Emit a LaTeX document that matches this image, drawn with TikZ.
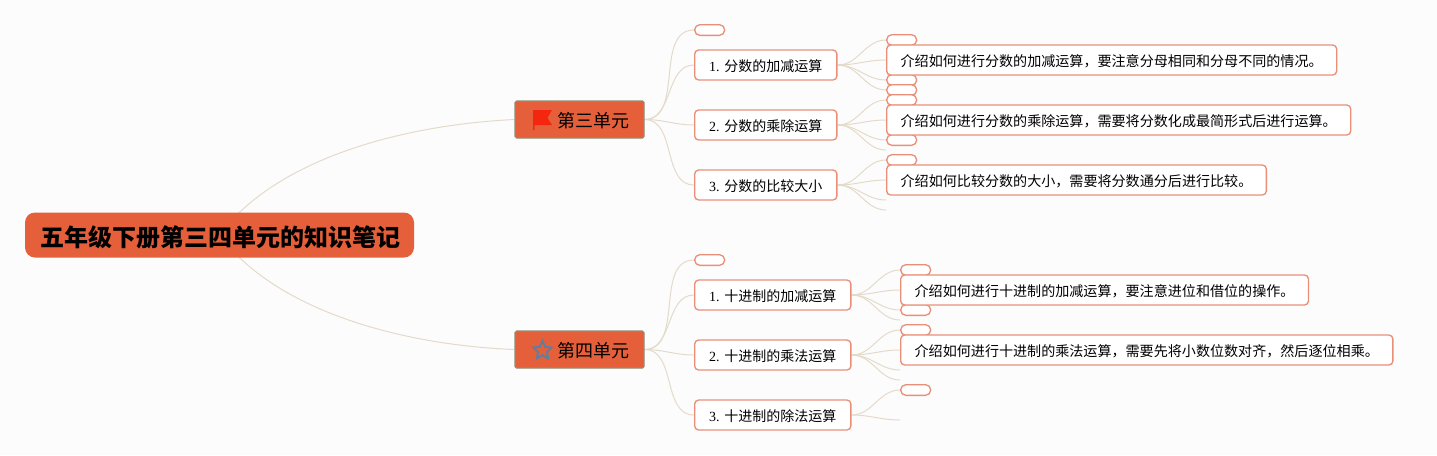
\documentclass[tikz,border=0pt]{standalone}
\usepackage{fontspec}
\setmainfont{Liberation Serif}
\newfontfamily\cjk{Noto Sans CJK SC}
\usetikzlibrary{shapes.geometric,backgrounds}
\definecolor{paper}{HTML}{FCFCFC}
\definecolor{topicred}{HTML}{E5603A}
\definecolor{pillline}{HTML}{E98F78}
\definecolor{linkbeige}{HTML}{E4DACA}
\definecolor{mainline}{HTML}{8E8E76}
\definecolor{starblue}{HTML}{5F7F9F}
\definecolor{flagred}{HTML}{F4260F}
\tikzset{
  rootbox/.style={anchor=center, fill=topicred, rounded corners=7.5pt, minimum width=291.75pt, minimum height=33.75pt, inner sep=0pt, text height=19pt, text depth=2.16pt, font=\cjk\fontsize{18}{20}\bfseries\selectfont},
  mainbox/.style={anchor=center, fill=topicred, draw=mainline, line width=0.9pt, rounded corners=1.2pt, minimum width=96.75pt, minimum height=27.75pt, inner sep=0pt},
  subbox/.style={anchor=west, fill=white, draw=pillline, line width=1pt, rounded corners=3pt, minimum height=22.5pt, inner xsep=10.9pt, inner ysep=0pt, text height=10.5pt, text depth=1pt, font=\fontsize{10.5}{12}\selectfont},
  notebox/.style={subbox, inner xsep=10.5pt, font=\fontsize{10.55}{12}\selectfont},
  pillbox/.style={anchor=west, fill=white, draw=pillline, line width=1pt, rounded corners=3.9pt, minimum width=22.5pt, minimum height=8pt, inner sep=0pt},
  link/.style={draw=linkbeige, line width=0.75pt},
}
\begin{document}
\begin{tikzpicture}[x=0.75pt, y=-0.75pt]
  \node[rootbox] (root) at (219.5,235) {\hspace{1pt}五年级下册第三四单元的知识笔记};

  % unit three
  \node[mainbox] (unitthree) at (579.5,119.5) {};
  \node[anchor=west, inner sep=0pt, font=\cjk\fontsize{13.5}{15}\selectfont] (unitthreetext) at (557,121) {第三单元};
  \fill[flagred] (533,110) -- (552,110) -- (547.5,118) -- (552,125) -- (534.5,125) -- (534.5,130) -- (533,130) -- cycle;
  \node[pillbox] (pa) at (694,30) {};
  \node[subbox] (fa) at (694,65) {1. {\cjk 分数的加减运算}};
  \node[subbox] (fb) at (694,125) {2. {\cjk 分数的乘除运算}};
  \node[subbox] (fc) at (694,185) {3. {\cjk 分数的比较大小}};
  \node[pillbox] (pb) at (886,40) {};
  \node[pillbox] (pc) at (886,80) {};
  \node[pillbox] (pd) at (886,90) {};
  \node[pillbox] (pe) at (886,100) {};
  \node[pillbox] (pf) at (886,140) {};
  \node[pillbox] (pg) at (886,160) {};
  \node[notebox] (na) at (886,60) {\cjk 介绍如何进行分数的加减运算，要注意分母相同和分母不同的情况。};
  \node[notebox] (nb) at (886,120) {\cjk 介绍如何进行分数的乘除运算，需要将分数化成最简形式后进行运算。};
  \node[notebox] (nc) at (886,180) {\cjk 介绍如何比较分数的大小，需要将分数通分后进行比较。};
  \coordinate (ea) at (886,150);
  \coordinate (eb) at (886,200);
  \coordinate (ec) at (886,210);

  % unit four
  \node[mainbox] (unitfour) at (579.5,349.5) {};
  \node[anchor=west, inner sep=0pt, font=\cjk\fontsize{13.5}{15}\selectfont] (unitfourtext) at (557,351) {第四单元};
  \node[star, star points=5, star point ratio=2.1, draw=starblue, line width=1.5pt, minimum size=14.5pt, inner sep=0pt] (staricon) at (542.5,350.5) {};
  \node[pillbox] (ph) at (694,260) {};
  \node[subbox] (sa) at (694,295) {1. {\cjk 十进制的加减运算}};
  \node[subbox] (sb) at (694,355) {2. {\cjk 十进制的乘法运算}};
  \node[subbox] (sc) at (694,415) {3. {\cjk 十进制的除法运算}};
  \node[pillbox] (pi) at (900,270) {};
  \node[pillbox] (pj) at (900,310) {};
  \node[pillbox] (pk) at (900,330) {};
  \node[pillbox] (pl) at (900,390) {};
  \node[notebox] (nd) at (900,290) {\cjk 介绍如何进行十进制的加减运算，要注意进位和借位的操作。};
  \node[notebox] (ne) at (900,350) {\cjk 介绍如何进行十进制的乘法运算，需要先将小数位数对齐，然后逐位相乘。};
  \coordinate (ed) at (900,320);
  \coordinate (ee) at (900,370);
  \coordinate (ef) at (900,380);
  \coordinate (eg) at (900,420);

  \begin{scope}[on background layer]
    \fill[paper] (0,0) rectangle (1437,455);
    \draw[link] (root.center) .. controls (275,160) and (400,125) .. (unitthree.west);
    \draw[link] (root.center) .. controls (275,310) and (400,345) .. (unitfour.west);
    \foreach \a/\b in {unitthree/pa, unitthree/fa, unitthree/fb, unitthree/fc, fa/pb, fa/na, fa/pc, fa/pd, fb/pe, fb/nb, fb/pf, fc/pg, fc/nc,
                       unitfour/ph, unitfour/sa, unitfour/sb, unitfour/sc, sa/pi, sa/nd, sa/pj, sb/pk, sb/ne, sc/pl}
      \draw[link] (\a.east) to[out=0, in=180] (\b.west);
    \foreach \a/\b in {fb/ea, fc/eb, fc/ec, sa/ed, sb/ee, sb/ef, sc/eg}
      \draw[link] (\a.east) to[out=0, in=180] (\b);
  \end{scope}
\end{tikzpicture}
\end{document}
